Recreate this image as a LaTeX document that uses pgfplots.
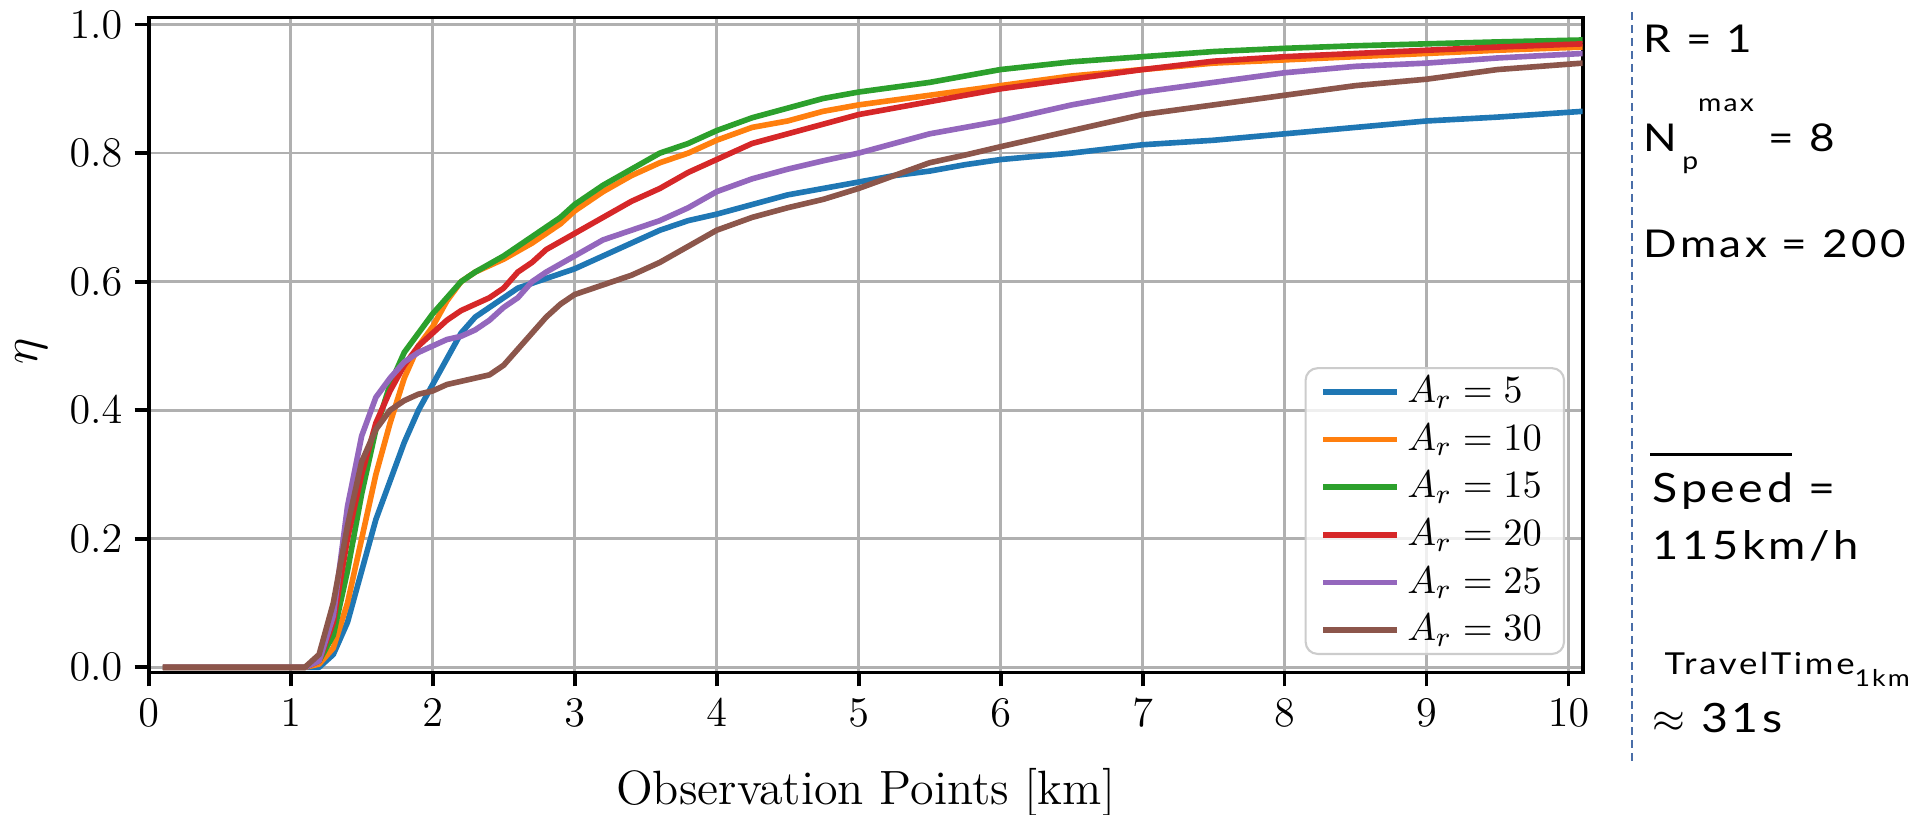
\documentclass[border=0pt]{standalone}
\usepackage{fontspec}
\usepackage{amsmath}
\usepackage{pgfplots}
\pgfplotsset{compat=1.18}
\newfontfamily\slidefont[LetterSpace=9, FakeStretch=1.15]{Lato}

\definecolor{tblue}{HTML}{1F77B4}
\definecolor{torange}{HTML}{FF7F0E}
\definecolor{tgreen}{HTML}{2CA02C}
\definecolor{tred}{HTML}{D62728}
\definecolor{tpurple}{HTML}{9467BD}
\definecolor{tbrown}{HTML}{8C564B}
\definecolor{gridgray}{RGB}{176,176,176}
\definecolor{dashblue}{HTML}{4A6EA8}

\begin{document}
\begin{tikzpicture}
\useasboundingbox (0,0) rectangle (191.5mm,81.5mm);
\begin{axis}[
    at={(14.87mm,14.25mm)}, anchor=south west,
    scale only axis,
    width=143.4mm, height=65.5mm,
    xmin=0, xmax=10.1, ymin=-0.008, ymax=1.011,
    xtick={0,1,...,10},
    ytick={0,0.2,0.4,0.6,0.8,1.0},
    yticklabel style={/pgf/number format/fixed, /pgf/number format/fixed zerofill, /pgf/number format/precision=1},
    grid=major,
    grid style={gridgray, line width=0.75pt},
    axis line style={line width=1.1pt},
    tick align=outside,
    major tick length=1.4mm,
    every tick/.style={black, line width=1.1pt},
    xtick pos=bottom, ytick pos=left,
    tick label style={font=\fontsize{12.7}{15}\selectfont},
    xlabel={Observation Points [km]},
    ylabel={$\eta$},
    label style={font=\fontsize{13.7}{16}\selectfont},
    xlabel style={at={(0.5,0)}, anchor=base, yshift=-13.2mm},
    ylabel style={at={(axis description cs:-0.082,0.49)}, anchor=center, inner sep=0pt},
    legend cell align=left,
    legend style={at={(0.9877,0.0267)}, anchor=south east,
        draw=black!20, line width=0.6pt, rounded corners=1.2mm,
        fill=white, fill opacity=0.8, text opacity=1,
        font=\fontsize{10.9}{12}\selectfont,
        inner xsep=1.5mm, inner ysep=0.1mm,
        row sep=0.2mm,
        /tikz/every even column/.append style={column sep=2.2mm}},
    legend image code/.code={\draw[#1, line width=1.6pt] (0mm,0mm) -- (7.4mm,0mm);},
    every axis plot/.append style={line width=1.6pt, line join=round},
]
% A_r = 5
\addplot[tblue] coordinates {
(0.1,0) (1.1,0) (1.2,0) (1.3,0.02) (1.4,0.07) (1.5,0.15) (1.6,0.23) (1.7,0.29)
(1.8,0.35) (1.9,0.40) (2.0,0.44) (2.1,0.48) (2.2,0.52) (2.3,0.545) (2.4,0.56)
(2.5,0.575) (2.6,0.59) (2.8,0.605) (3.0,0.62) (3.2,0.64) (3.4,0.66) (3.6,0.68)
(3.8,0.695) (4.0,0.705) (4.25,0.72) (4.5,0.735) (4.75,0.745) (5.0,0.755) (5.25,0.765)
(5.5,0.772) (5.75,0.782) (6.0,0.79) (6.5,0.80) (7.0,0.813) (7.5,0.82) (8.0,0.83)
(8.5,0.84) (9.0,0.85) (9.5,0.856) (10.1,0.865)};
\addlegendentry{$A_r = 5$}
% A_r = 10
\addplot[torange] coordinates {
(0.1,0) (1.1,0) (1.2,0.005) (1.3,0.03) (1.4,0.10) (1.5,0.20) (1.6,0.30) (1.7,0.38)
(1.8,0.45) (1.9,0.50) (2.0,0.53) (2.1,0.57) (2.2,0.60) (2.3,0.615) (2.5,0.635)
(2.7,0.66) (2.9,0.69) (3.0,0.71) (3.2,0.74) (3.4,0.765) (3.6,0.785) (3.8,0.80)
(4.0,0.82) (4.25,0.84) (4.5,0.85) (4.75,0.865) (5.0,0.875) (5.5,0.89) (6.0,0.905)
(6.5,0.92) (7.0,0.93) (7.5,0.94) (8.0,0.945) (8.5,0.95) (9.0,0.955) (9.5,0.96) (10.1,0.965)};
\addlegendentry{$A_r = 10$}
% A_r = 15
\addplot[tgreen] coordinates {
(0.1,0) (1.1,0) (1.2,0.01) (1.3,0.05) (1.4,0.15) (1.5,0.27) (1.6,0.37) (1.7,0.44)
(1.8,0.49) (1.9,0.52) (2.0,0.55) (2.1,0.575) (2.2,0.60) (2.3,0.615) (2.5,0.64)
(2.7,0.67) (2.9,0.70) (3.0,0.72) (3.2,0.75) (3.4,0.775) (3.6,0.80) (3.8,0.815)
(4.0,0.835) (4.25,0.855) (4.5,0.87) (4.75,0.885) (5.0,0.895) (5.5,0.91) (6.0,0.93)
(6.5,0.942) (7.0,0.95) (7.5,0.958) (8.0,0.963) (8.5,0.967) (9.0,0.97) (9.5,0.973) (10.1,0.976)};
\addlegendentry{$A_r = 15$}
% A_r = 20
\addplot[tred] coordinates {
(0.1,0) (1.1,0) (1.2,0.01) (1.3,0.07) (1.4,0.20) (1.5,0.30) (1.6,0.38) (1.7,0.43)
(1.8,0.47) (1.9,0.50) (2.0,0.52) (2.1,0.54) (2.2,0.555) (2.3,0.565) (2.4,0.575)
(2.5,0.59) (2.6,0.615) (2.7,0.63) (2.8,0.65) (3.0,0.675) (3.2,0.70) (3.4,0.725)
(3.6,0.745) (3.8,0.77) (4.0,0.79) (4.25,0.815) (4.5,0.83) (4.75,0.845) (5.0,0.86)
(5.5,0.88) (6.0,0.90) (6.5,0.915) (7.0,0.93) (7.5,0.943) (8.0,0.95) (8.5,0.955)
(9.0,0.96) (9.5,0.965) (10.1,0.97)};
\addlegendentry{$A_r = 20$}
% A_r = 25
\addplot[tpurple] coordinates {
(0.1,0) (1.1,0) (1.2,0.01) (1.3,0.08) (1.4,0.25) (1.5,0.36) (1.6,0.42) (1.7,0.45)
(1.8,0.475) (1.9,0.49) (2.0,0.50) (2.1,0.51) (2.2,0.515) (2.3,0.525) (2.4,0.54)
(2.5,0.56) (2.6,0.575) (2.7,0.60) (2.8,0.615) (3.0,0.64) (3.2,0.665) (3.4,0.68)
(3.6,0.695) (3.8,0.715) (4.0,0.74) (4.25,0.76) (4.5,0.775) (4.75,0.788) (5.0,0.80)
(5.5,0.83) (6.0,0.85) (6.5,0.875) (7.0,0.895) (7.5,0.91) (8.0,0.925) (8.5,0.935)
(9.0,0.94) (9.5,0.948) (10.1,0.955)};
\addlegendentry{$A_r = 25$}
% A_r = 30
\addplot[tbrown] coordinates {
(0.1,0) (1.1,0) (1.2,0.02) (1.3,0.10) (1.4,0.22) (1.5,0.32) (1.6,0.37) (1.7,0.40)
(1.8,0.415) (1.9,0.425) (2.0,0.43) (2.1,0.44) (2.2,0.445) (2.3,0.45) (2.4,0.455)
(2.5,0.47) (2.6,0.495) (2.7,0.52) (2.8,0.545) (2.9,0.565) (3.0,0.58) (3.2,0.595)
(3.4,0.61) (3.6,0.63) (3.8,0.655) (4.0,0.68) (4.25,0.70) (4.5,0.715) (4.75,0.728)
(5.0,0.745) (5.25,0.765) (5.5,0.785) (5.75,0.797) (6.0,0.81) (6.5,0.835) (7.0,0.86)
(7.5,0.875) (8.0,0.89) (8.5,0.905) (9.0,0.915) (9.5,0.93) (10.1,0.94)};
\addlegendentry{$A_r = 30$}
\end{axis}

% side panel
\draw[dashblue, line width=0.5pt, dash pattern=on 0.8mm off 0.5mm] (163.2mm,80.3mm) -- (163.2mm,5.0mm);
\begin{scope}[every node/.style={anchor=base west, inner sep=0pt, font=\slidefont\fontsize{10.9}{13}\selectfont}]
\node at (164.3mm,76.2mm) {R = 1};
\node at (164.3mm,66.3mm) {N\hspace{0.5mm}\raisebox{-1.8mm}{\fontsize{7}{8}\selectfont p}\raisebox{4.0mm}{\fontsize{7}{8}\selectfont max} = 8};
\node at (164.3mm,55.7mm) {Dmax = 200};
\node at (165.2mm,31.2mm) {\fontsize{11.5}{13}\selectfont Speed =};
\node at (165.2mm,25.5mm) {\fontsize{11.2}{13}\selectfont 115km/h};
\node at (166.4mm,14.0mm) {\fontsize{8.6}{10}\selectfont TravelTime\raisebox{-1.2mm}{\fontsize{6.6}{8}\selectfont 1km}};
\node at (165.2mm,8.2mm) {\fontsize{11.5}{13}\selectfont $\approx$ 31s};
\end{scope}
\draw[black, line width=0.3mm] (165.0mm,36.0mm) -- (179.2mm,36.0mm);
\end{tikzpicture}
\end{document}
